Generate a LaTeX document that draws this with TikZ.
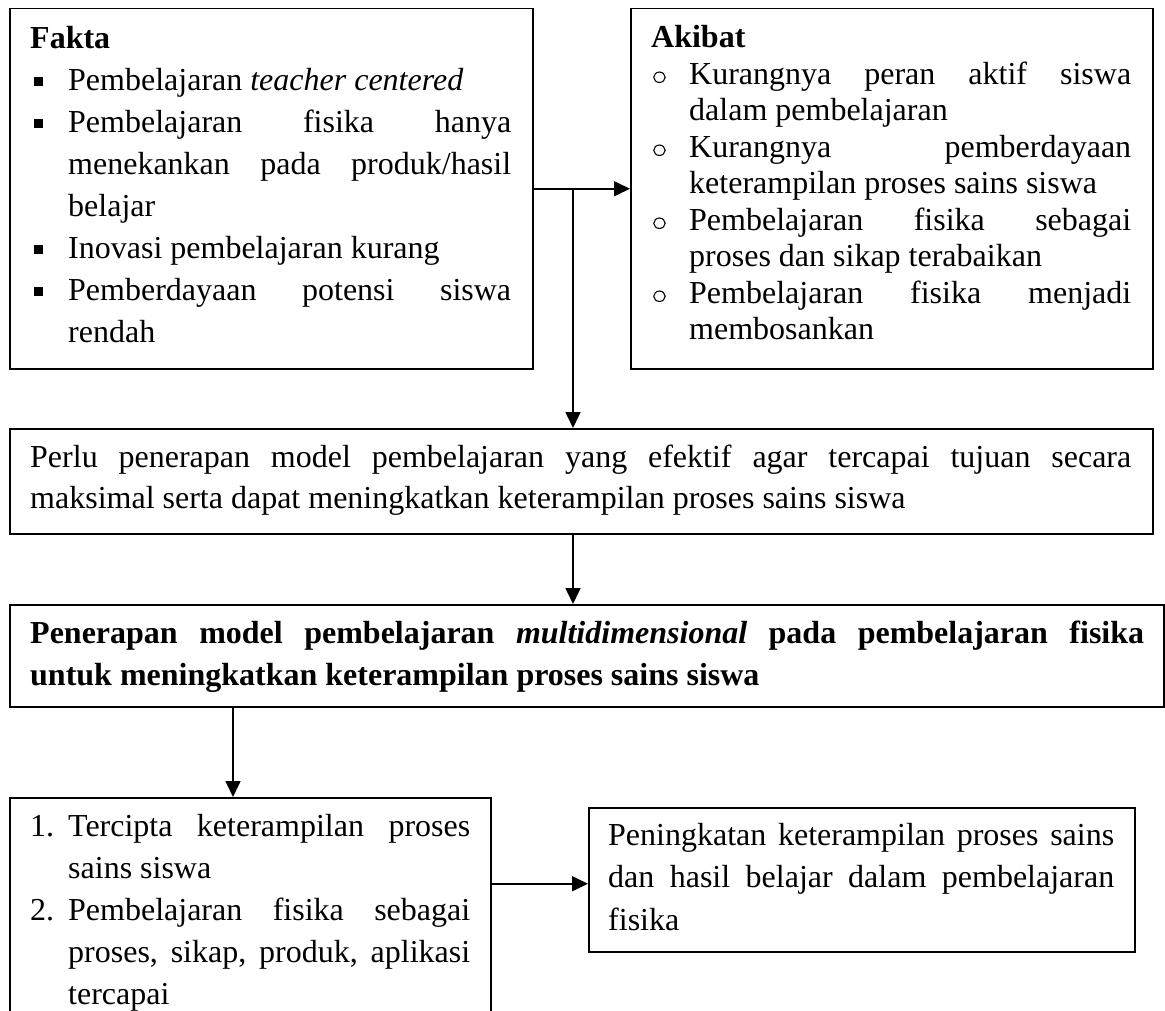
\documentclass[tikz,border=0pt]{standalone}
\usepackage{fontspec}
\setmainfont{Liberation Serif}
\usetikzlibrary{arrows.meta}
\newcommand{\jl}[2]{\makebox[#1][s]{#2}}
\newcommand{\sqb}{\makebox[38pt][l]{\hspace*{4pt}\rule[5pt]{8.5pt}{8.5pt}}}
\newcommand{\cib}{\makebox[38pt][l]{\hspace*{2pt}\raisebox{1.5pt}{\tikz[x=1pt,y=1pt]\draw[line width=1.1pt] (0,0) ellipse[x radius=5.7pt, y radius=5.2pt];}}}
\newcommand{\ind}{\hspace*{38pt}}
\newcommand{\numb}[1]{\makebox[38pt][l]{#1}}
\begin{document}
\begin{tikzpicture}[x=1pt,y=-1pt,
  boxst/.style={draw, line width=1.5pt, inner sep=0pt, anchor=north west},
  txt/.style={anchor=base west, inner sep=0pt},
  arr/.style={line width=1.6pt, -{Triangle[length=16pt,width=15pt]}}]
\useasboundingbox (0,0) rectangle (1165,1011);
\fill[white] (0,0) rectangle (1165,1011);
\clip (0,0) rectangle (1165,1011);
% boxes
\node[boxst, minimum width=523pt, minimum height=360pt] (fakta) at (9,8) {};
\node[boxst, minimum width=522pt, minimum height=360pt] (akibat) at (630,8) {};
\node[boxst, minimum width=1143pt, minimum height=105pt] (perlu) at (9,428) {};
\node[boxst, minimum width=1154pt, minimum height=102pt] (penerapan) at (9,604) {};
\node[boxst, minimum width=481pt, minimum height=260pt] (hasil) at (9,797) {};
\node[boxst, minimum width=546pt, minimum height=144pt] (tingkat) at (588,807) {};
% texts
\node[txt] (faktatxt) at (30,49) {\parbox[t]{481pt}{\fontsize{32}{42}\selectfont
\textbf{Fakta}\\
\sqb Pembelajaran \textit{teacher centered}\\
\sqb\jl{443pt}{Pembelajaran fisika hanya}\\
\ind\jl{443pt}{menekankan pada produk/hasil}\\
\ind belajar\\
\sqb Inovasi pembelajaran kurang\\
\sqb\jl{443pt}{Pemberdayaan potensi siswa}\\
\ind rendah}};
\node[txt] (akibattxt) at (651,48) {\parbox[t]{480pt}{\fontsize{32}{36.5}\selectfont
\textbf{Akibat}\\
\cib\jl{442pt}{Kurangnya peran aktif siswa}\\
\ind dalam pembelajaran\\
\cib\jl{442pt}{Kurangnya pemberdayaan}\\
\ind keterampilan proses sains siswa\\
\cib\jl{442pt}{Pembelajaran fisika sebagai}\\
\ind proses dan sikap terabaikan\\
\cib\jl{442pt}{Pembelajaran fisika menjadi}\\
\ind membosankan}};
\node[txt] (perlutxt) at (30,467) {\parbox[t]{1101pt}{\fontsize{32}{41}\selectfont
\jl{1101pt}{Perlu penerapan model pembelajaran yang efektif agar tercapai tujuan secara}\\
maksimal serta dapat meningkatkan keterampilan proses sains siswa}};
\node[txt] (penerapantxt) at (30,643) {\parbox[t]{1114pt}{\fontsize{32}{42}\selectfont\bfseries
\jl{1114pt}{Penerapan model pembelajaran \textit{multidimensional} pada pembelajaran fisika}\\
untuk meningkatkan keterampilan proses sains siswa}};
\node[txt] (hasiltxt) at (30,836) {\parbox[t]{440pt}{\fontsize{32}{42}\selectfont
\numb{1.}\jl{402pt}{Tercipta keterampilan proses}\\
\ind sains siswa\\
\numb{2.}\jl{402pt}{Pembelajaran fisika sebagai}\\
\ind\jl{402pt}{proses, sikap, produk, aplikasi}\\
\ind tercapai}};
\node[txt] (tingkattxt) at (608,845) {\parbox[t]{506pt}{\fontsize{32}{42.5}\selectfont
\jl{506pt}{Peningkatan keterampilan proses sains}\\
\jl{506pt}{dan hasil belajar dalam pembelajaran}\\
fisika}};
% connectors
\coordinate (j) at (573,0);
\coordinate (k) at (233,0);
\draw[arr] (fakta.east) -- (akibat.west);
\draw[arr] (fakta.east -| j) -- (perlu.north -| j);
\draw[arr] (perlu.south -| j) -- (penerapan.north -| j);
\draw[arr] (penerapan.south -| k) -- (hasil.north -| k);
\draw[arr] ([yshift=-4pt]tingkat.west -| hasil.east) -- ([yshift=-4pt]tingkat.west);
\end{tikzpicture}
\end{document}
